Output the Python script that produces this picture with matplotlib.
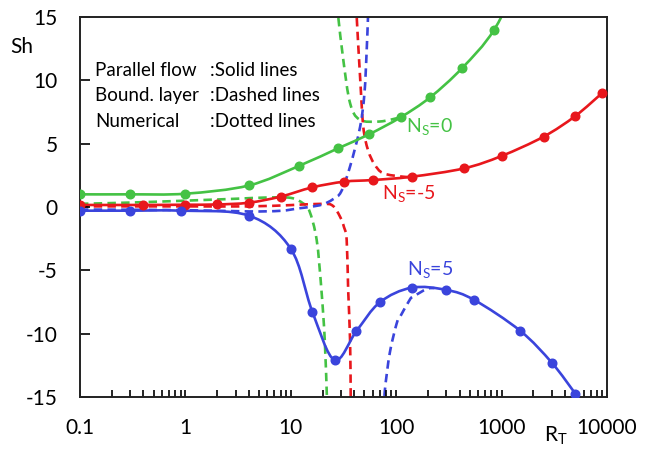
import numpy as np
import matplotlib
matplotlib.use("Agg")
import matplotlib.pyplot as plt
from matplotlib.path import Path
from matplotlib.patches import PathPatch
from matplotlib.ticker import LogLocator, FixedLocator, NullFormatter

plt.rcParams['font.family'] = ['Lato', 'DejaVu Sans']
plt.rcParams['mathtext.fontset'] = 'custom'
plt.rcParams['mathtext.rm'] = 'Lato'
plt.rcParams['mathtext.it'] = 'Lato'

# ---------------- data ----------------
# Parallel flow (solid lines + markers)
g_x = [0.1, 0.3, 1, 4, 12, 28, 55, 110, 210, 420, 850, 1700]
g_y = [1.0, 1.0, 1.05, 1.7, 3.25, 4.63, 5.73, 7.08, 8.66, 10.95, 14.0, 19.0]
r_x = [0.1, 0.4, 1, 2, 4, 8, 16, 32, 60, 140, 440, 1000, 2500, 5000, 9000]
r_y = [0.16, 0.16, 0.18, 0.2, 0.34, 0.82, 1.55, 2.0, 2.13, 2.39, 3.05, 4.03, 5.55, 7.18, 9.0]
b_x = [0.1, 0.3, 0.9, 4, 10, 16, 26, 42, 70, 140, 300, 550, 1500, 3000, 5000]
b_y = [-0.29, -0.29, -0.29, -0.68, -3.3, -8.26, -12.08, -9.79, -7.52, -6.37, -6.55, -7.34, -9.77, -12.3, -14.73]

# Boundary layer (dashed lines), two branches each
gd1_x = [0.1, 0.3, 1, 3, 6, 10, 13, 15, 17.6, 19.5, 21, 22, 22.3]
gd1_y = [0.25, 0.35, 0.5, 0.65, 0.75, 0.72, 0.3, -0.3, -2.6, -6.5, -10.5, -15, -16]
gd2_x = [27.5, 28.2, 31.5, 36.5, 45, 70, 110]
gd2_y = [16, 15, 11.6, 8.2, 6.9, 6.75, 7.08]
rd1_x = [0.1, 1, 4, 10, 20, 25, 29.3, 32, 33.9, 35, 36.5, 37, 37.3]
rd1_y = [0.05, 0.05, 0.05, 0.15, 0.25, 0.1, -0.76, -1.6, -2.6, -6.5, -10.5, -14.7, -16]
rd2_x = [41.8, 42.2, 45.4, 48.7, 54, 62, 75.5, 117, 140]
rd2_y = [16, 15, 10.3, 6.34, 4.5, 3.4, 2.66, 2.39, 2.39]
bd1_x = [0.1, 1, 4, 8, 12, 15, 20, 25, 30, 36.5, 45.4, 50, 52.5, 54, 54.5]
bd1_y = [-0.2, -0.25, -0.35, -0.3, -0.1, 0.0, 0.2, 0.6, 1.2, 3.2, 6.3, 9.0, 12.4, 15, 16]
bd2_x = [77, 78, 87, 101, 109, 135, 145, 195, 230]
bd2_y = [-16, -14.5, -11.5, -9.2, -8.66, -7.3, -7.08, -6.47, -6.4]

GREEN = '#44c244'
RED = '#e8171c'
BLUE = '#3a44dc'

# ---------------- figure ----------------
W, H = 651, 450
fig = plt.figure(figsize=(W / 100, H / 100), dpi=100)
L, R, T, B = 80, 607, 17, 397
ax = fig.add_axes([L / W, 1 - B / H, (R - L) / W, (B - T) / H])
ax.set_xscale('log')
ax.set_xlim(0.1, 10000)
ax.set_ylim(-15, 15)

PW, PH = R - L, B - T


def smooth_patch(xs, ys, color, dashed=False):
    # Excel-like smoothed line: Catmull-Rom -> cubic Bezier in pixel-like space
    u = (np.log10(np.asarray(xs, float)) + 1) / 5 * PW
    v = (np.asarray(ys, float) + 15) / 30 * PH
    P = np.column_stack([u, v])
    n = len(P)
    verts = [P[0]]
    codes = [Path.MOVETO]
    for i in range(n - 1):
        p0 = P[i - 1] if i > 0 else P[i]
        p1 = P[i]
        p2 = P[i + 1]
        p3 = P[i + 2] if i + 2 < n else P[i + 1]
        c1 = p1 + (p2 - p0) / 6
        c2 = p2 - (p3 - p1) / 6
        verts += [c1, c2, p2]
        codes += [Path.CURVE4] * 3
    V = np.array(verts)
    X = 10 ** (V[:, 0] / PW * 5 - 1)
    Y = V[:, 1] / PH * 30 - 15
    path = Path(np.column_stack([X, Y]), codes)
    ls = (0, (3.2, 2.0)) if dashed else '-'
    patch = PathPatch(path, fill=False, edgecolor=color, lw=1.9,
                      linestyle=ls, capstyle='butt', joinstyle='round')
    ax.add_patch(patch)


for xs, ys, c in [(gd1_x, gd1_y, GREEN), (gd2_x, gd2_y, GREEN),
                  (rd1_x, rd1_y, RED), (rd2_x, rd2_y, RED),
                  (bd1_x, bd1_y, BLUE), (bd2_x, bd2_y, BLUE)]:
    smooth_patch(xs, ys, c, dashed=True)

for xs, ys, c in [(g_x, g_y, GREEN), (r_x, r_y, RED), (b_x, b_y, BLUE)]:
    smooth_patch(xs, ys, c)
    ax.plot(xs, ys, 'o', color=c, markersize=6.2, linestyle='none', zorder=3)

ax.set_xlim(0.1, 10000)
ax.set_ylim(-15, 15)

# ticks
ax.xaxis.set_major_locator(FixedLocator([0.1, 1, 10, 100, 1000, 10000]))
ax.xaxis.set_minor_locator(LogLocator(base=10, subs=np.arange(2, 10)))
ax.xaxis.set_minor_formatter(NullFormatter())
ax.set_xticks([0.1, 1, 10, 100, 1000, 10000])
ax.set_xticklabels(['0.1', '1', '10', '100', '1000', '10000'])
ax.set_yticks([-15, -10, -5, 0, 5, 10, 15])
ax.set_yticklabels(['-15', '-10', '-5', '0', '5', '10', '15'])
ax.tick_params(axis='both', which='both', direction='in', width=1.2,
               color='black', labelsize=15, top=False, right=False)
ax.tick_params(axis='x', which='both', length=5, pad=15)
ax.tick_params(axis='y', which='major', length=7, pad=16)
for s in ax.spines.values():
    s.set_linewidth(1.4)
    s.set_color('#222222')

# labels
fig.text(22 / W, 1 - 47 / H, 'Sh', fontsize=15, ha='center', va='center')
fig.text(556 / W, 1 - 436 / H, r'R$_\mathrm{T}$', fontsize=15, ha='center', va='center')

for i, (a, b) in enumerate([('Parallel flow', ':Solid lines'),
                            ('Bound. layer', ':Dashed lines'),
                            ('Numerical', ':Dotted lines')]):
    yy = 1 - (70 + 25.5 * i) / H
    fig.text(95 / W, yy, a, fontsize=13.5, ha='left', va='center')
    fig.text(210 / W, yy, b, fontsize=13.5, ha='left', va='center')

fig.text(430 / W, 1 - 127 / H, r'N$_\mathrm{S}$=0', color=GREEN, fontsize=14, ha='center', va='center')
fig.text(409 / W, 1 - 193 / H, r'N$_\mathrm{S}$=-5', color=RED, fontsize=14, ha='center', va='center')
fig.text(430 / W, 1 - 270 / H, r'N$_\mathrm{S}$=5', color=BLUE, fontsize=14, ha='center', va='center')

fig.savefig('out.png', dpi=100)
